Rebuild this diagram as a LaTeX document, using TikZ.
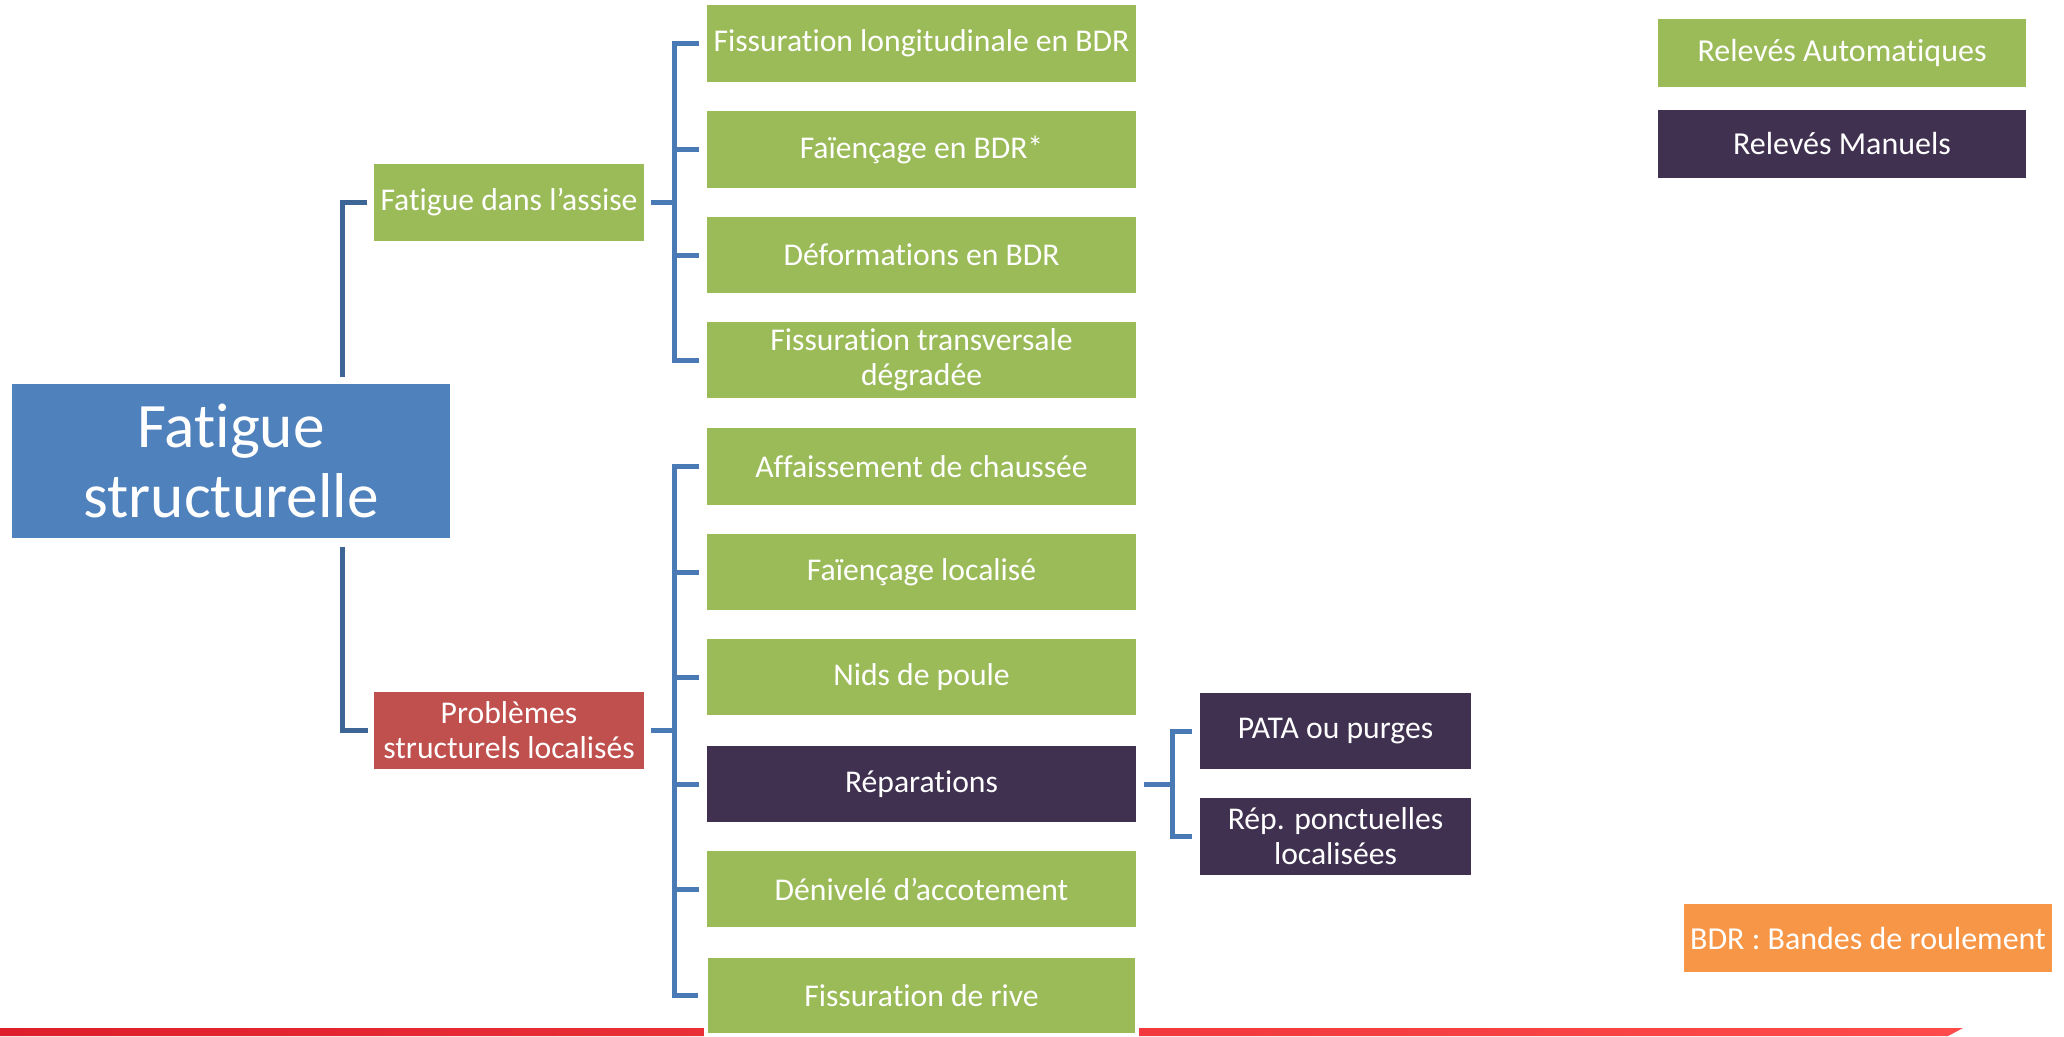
\documentclass[tikz,border=0pt]{standalone}
\usepackage{fontspec}
\setmainfont{Carlito}[RawFeature=-liga]
\usetikzlibrary{positioning, calc}

\definecolor{vert}{HTML}{9BBB59}
\definecolor{violet}{HTML}{403151}
\definecolor{bleu}{HTML}{4F81BD}
\definecolor{rouge}{HTML}{C0504D}
\definecolor{orange}{HTML}{F79646}
\definecolor{trait}{HTML}{4A7AB5}
\definecolor{traitfonce}{HTML}{3D6696}
\definecolor{barregauche}{HTML}{DE1F2B}
\definecolor{barredroite}{HTML}{FF4B4B}

\begin{document}
\begin{tikzpicture}[x=0.01cm, y=-0.01cm,
    boite/.style={draw=white, line width=0.6pt, text=white, inner sep=0pt, align=center,
                  minimum width=4.31cm, minimum height=0.79cm, font=\fontsize{9}{10}\selectfont},
    petite/.style={boite, minimum width=2.72cm},
    legende/.style={boite, minimum width=3.70cm, minimum height=0.70cm, font=\fontsize{9.1}{10}\selectfont},
    lien/.style={draw=trait, line width=0.05cm},
    lienfonce/.style={draw=traitfonce, line width=0.05cm}]
    \useasboundingbox (0,0) rectangle (2064,1036);
    %%% Bottom bar
    \shade[left color=barregauche, right color=barredroite] (0,1028) -- (1963,1028) -- (1948,1036) -- (0,1036) -- cycle;
    %%% Root
    \node[boite, fill=bleu, minimum width=4.40cm, minimum height=1.56cm, font=\fontsize{18}{20}\selectfont] (root) at (231,461) {Fatigue\\structurelle};
    %%% Second level
    \node[petite, fill=vert] (assise) at (509,202.5) {Fatigue dans l’assise};
    \node[petite, fill=rouge] (probl) at (509,730.5) {Problèmes\\structurels localisés};
    \draw[lienfonce] ([xshift=1.11cm, yshift=0.05cm]root.north) |- ([xshift=-0.05cm]assise.west);
    \draw[lienfonce] ([xshift=1.11cm, yshift=-0.07cm]root.south) |- ([xshift=-0.04cm]probl.west);
    %
    %%% Fatigue dans l'assise
    \node[boite, fill=vert] (longi) at (921.5,43.5) {Fissuration longitudinale en BDR};
    \node[boite, fill=vert] (faienc) at (921.5,149.5) {Faïençage en BDR*};
    \node[boite, fill=vert] (deform) at (921.5,255) {Déformations en BDR};
    \node[boite, fill=vert] (transv) at (921.5,360) {Fissuration transversale\\dégradée};
    \coordinate (ja) at (674,202.5);
    \draw[lien] ([xshift=0.05cm]assise.east) -- (ja);
    \draw[lien] ([xshift=-0.06cm]longi.west) -| (ja) |- ([xshift=-0.06cm]transv.west);
    \draw[lien] (ja |- faienc.west) -- ([xshift=-0.06cm]faienc.west);
    \draw[lien] (ja |- deform.west) -- ([xshift=-0.06cm]deform.west);
    %
    %%% Problemes structurels localises
    \node[boite, fill=vert] (affais) at (921.5,466.5) {Affaissement de chaussée};
    \node[boite, fill=vert] (falocal) at (921.5,572) {Faïençage localisé};
    \node[boite, fill=vert] (nids) at (921.5,677) {Nids de poule};
    \node[boite, fill=violet] (repar) at (921.5,784) {Réparations};
    \node[boite, fill=vert] (deniv) at (921.5,889) {Dénivelé d’accotement};
    \node[boite, fill=vert, line width=1.2pt] (rive) at (921.5,995.5) {Fissuration de rive};
    \coordinate (jb) at (674,730.5);
    \draw[lien] ([xshift=0.05cm]probl.east) -- (jb);
    \draw[lien] ([xshift=-0.06cm]affais.west) -| (jb) |- ([xshift=-0.06cm]rive.west);
    \draw[lien] (jb |- falocal.west) -- ([xshift=-0.06cm]falocal.west);
    \draw[lien] (jb |- nids.west) -- ([xshift=-0.06cm]nids.west);
    \draw[lien] (jb |- repar.west) -- ([xshift=-0.06cm]repar.west);
    \draw[lien] (jb |- deniv.west) -- ([xshift=-0.06cm]deniv.west);
    %
    %%% Reparations
    \node[petite, fill=violet, minimum width=2.73cm] (pata) at (1335.5,731) {PATA ou purges};
    \node[petite, fill=violet, minimum width=2.73cm] (ponct) at (1335.5,836.5) {Rép. ponctuelles\\localisées};
    \coordinate (jc) at (1172,784);
    \draw[lien] ([xshift=0.06cm]repar.east) -- (jc);
    \draw[lien] ([xshift=-0.06cm]pata.west) -| (jc) |- ([xshift=-0.06cm]ponct.west);
    %
    %%% Legend
    \node[legende, fill=vert] (auto) at (1842,53) {Relevés Automatiques};
    \node[legende, fill=violet] (manuel) at (1842,144) {Relevés Manuels};
    \node[legende, fill=orange] (bdr) at (1868,938) {BDR : Bandes de roulement};
\end{tikzpicture}
\end{document}
